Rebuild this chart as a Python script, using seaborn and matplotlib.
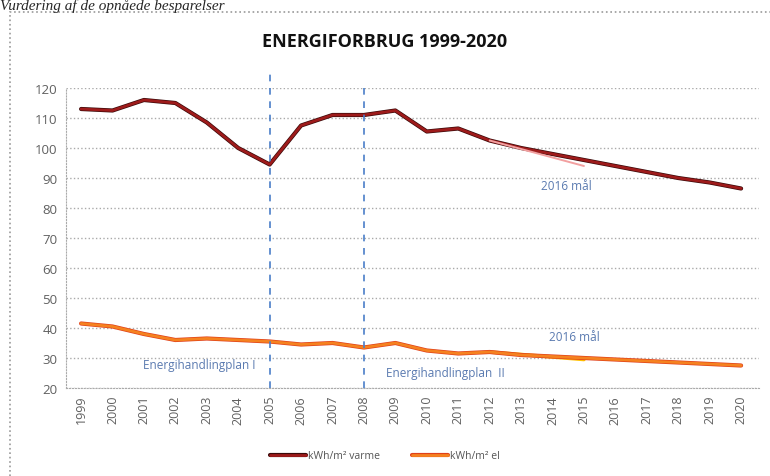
import matplotlib
matplotlib.use('Agg')
from matplotlib import pyplot as plt
from matplotlib import patches
import matplotlib.patheffects as pe
import pandas as pd
import seaborn as sns

years = list(range(1999, 2021))
varme = [113, 112.5, 116, 115, 108.5, 100, 94.5, 107.5, 111, 111, 112.5, 105.5,
         106.5, 102.5, 100, 98, 96, 94, 92, 90, 88.5, 86.5]
el = [41.5, 40.5, 38, 36, 36.5, 36, 35.5, 34.5, 35, 33.5, 35, 32.5,
      31.5, 32, 31, 30.5, 30, 29.5, 29, 28.5, 28, 27.5]
# 2016 targets
maal_years = [2012, 2015]
maal_varme = [102.5, 94]
maal_el = [32, 29.5]
plan_years = [2005, 2008]

df = pd.DataFrame({'year': years * 2,
                   'value': varme + el,
                   'serie': ['kWh/m² varme'] * len(years) + ['kWh/m² el'] * len(years)})

sns.set_style('white')
plt.rcParams['font.family'] = ['Open Sans', 'DejaVu Sans']

fig = plt.figure(figsize=(7.7, 4.77), dpi=100)
ax = fig.add_axes([66 / 770, 1 - 389 / 477, (759 - 66) / 770, 300 / 477])

# frame around the chart
fig.patches.append(patches.Rectangle((10 / 770, -0.01), 1, 1 - 13 / 477 + 0.01,
                                     transform=fig.transFigure, fill=False,
                                     edgecolor='#999999', linestyle=':', linewidth=1.2))
fig.text(0.0, 1 - 10 / 477, 'Vurdering af de opnåede besparelser', family='Liberation Serif',
         style='italic', fontsize=11, va='baseline', ha='left')

sns.lineplot(data=df, x='year', y='value', hue='serie',
             palette={'kWh/m² varme': '#9E1B1B', 'kWh/m² el': '#F58220'},
             linewidth=2.0, ax=ax, legend=False)
ax.lines[0].set_path_effects([pe.Stroke(linewidth=3.0, foreground='#3a0a0a'), pe.Normal()])
ax.lines[1].set_path_effects([pe.Stroke(linewidth=3.0, foreground='#E0401A'), pe.Normal()])

sns.lineplot(x=maal_years, y=maal_varme, color='#F2A0A0', linewidth=1.4, ax=ax, zorder=3)
sns.lineplot(x=maal_years, y=maal_el, color='#FFC000', linewidth=2.6, ax=ax, zorder=1.5)

ax.axvline(plan_years[0], ymin=0, ymax=1.047, color='#4A7EC8', linestyle=(0, (4, 4)),
           linewidth=1.2, clip_on=False)
ax.axvline(plan_years[1], ymin=0, ymax=1.0, color='#4A7EC8', linestyle=(0, (4, 4)),
           linewidth=1.2, clip_on=False)

lbl = dict(color='#5A7AB0', fontsize=8.5)
ax.text(2014.45, 87.5, '2016 mål', ha='center', va='center', **lbl)
ax.text(2014.7, 37.3, '2016 mål', ha='center', va='center', **lbl)
ax.text(2002.75, 28.0, 'Energihandlingplan I', ha='center', va='center', **lbl)
ax.text(2010.6, 25.3, 'Energihandlingplan  II', ha='center', va='center', **lbl)

ax.set_xlim(1998.52, 2020.57)
ax.set_ylim(20, 120)
ax.set_yticks(range(20, 121, 10))
ax.set_xticks(years)
ax.set_xticklabels([str(y) for y in years], rotation=90)
ax.tick_params(axis='y', labelsize=9.5, colors='#606060', length=0, pad=6)
ax.tick_params(axis='x', labelsize=9, colors='#606060', length=0, pad=5)
ax.grid(axis='y', color='#aaaaaa', linestyle=':', linewidth=1)
for s in ['top', 'right']:
    ax.spines[s].set_visible(False)
for s in ['left', 'bottom']:
    ax.spines[s].set_color('#aaaaaa')
    ax.spines[s].set_linestyle(':')
ax.set_xlabel('')
ax.set_ylabel('')

fig.text(0.5, 1 - 42 / 477, 'ENERGIFORBRUG 1999-2020', ha='center', va='center',
         fontsize=13, fontweight='bold', color='#111111')

fig.legend(handles=[ax.lines[0], ax.lines[1]], labels=['kWh/m² varme', 'kWh/m² el'],
           loc='center', bbox_to_anchor=(0.5, 1 - 457 / 477), ncol=2, frameon=False,
           fontsize=7.5, handlelength=3.5, handletextpad=0.2, columnspacing=3,
           labelcolor='#555555')

fig.savefig('out.png', dpi=100)
